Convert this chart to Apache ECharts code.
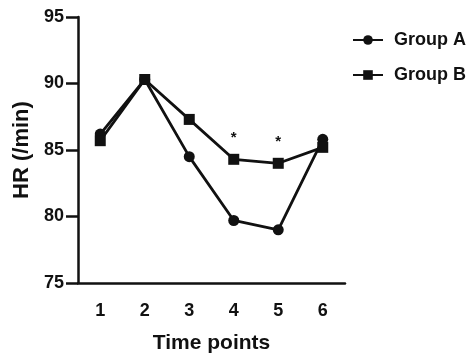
<!DOCTYPE html>
<html>
<head>
<meta charset="utf-8">
<script src="https://cdn.jsdelivr.net/npm/echarts@6/dist/echarts.min.js"></script>
<style>
  html, body { margin: 0; padding: 0; background: #fff; }
  #chartBox { width: 474px; height: 353px; }
</style>
</head>
<body>
<div id="chartBox"></div>
<script>
// chart data
const timePoints = ['1', '2', '3', '4', '5', '6']
const groupA = [86.2, 90.3, 84.5, 79.7, 79.0, 85.8]
const groupB = [85.7, 90.3, 87.3, 84.3, 84.0, 85.2]
const starIndex = [3, 4] // points marked with *
const yTicks = { min: 75, max: 95, interval: 5 }

const font = 'Liberation Sans, Arial, sans-serif'
const ink = '#111'

const chart = echarts.init(document.getElementById('chartBox'))

const groupBData = groupB.map((v, i) => {
  if (starIndex.indexOf(i) === -1) return v
  return {
    value: v,
    label: {
      show: true,
      position: 'top',
      distance: 8,
      formatter: '*',
      color: ink,
      fontFamily: font,
      fontWeight: 'bold',
      fontSize: 15
    }
  }
})

chart.setOption({
  animation: false,
  grid: { left: 78, right: 129, top: 17, bottom: 70, containLabel: false, outerBoundsMode: 'none' },
  legend: {
    orient: 'vertical',
    left: 347,
    top: 25,
    itemWidth: 30,
    itemHeight: 12,
    itemGap: 15,
    data: ['Group A', 'Group B'],
    textStyle: { color: ink, fontFamily: font, fontWeight: 'bold', fontSize: 18, lineHeight: 20, padding: [0, 0, 0, 6] }
  },
  xAxis: {
    type: 'category',
    data: timePoints,
    name: 'Time points',
    nameLocation: 'middle',
    nameGap: 50,
    nameTextStyle: { color: ink, fontFamily: font, fontWeight: 'bold', fontSize: 21 },
    axisLine: { lineStyle: { color: ink, width: 2.5 } },
    axisTick: { alignWithLabel: true, length: 7, lineStyle: { color: ink, width: 2.5 } },
    axisLabel: { color: ink, fontFamily: font, fontWeight: 'bold', fontSize: 18, margin: 19 }
  },
  yAxis: {
    type: 'value',
    min: yTicks.min,
    max: yTicks.max,
    interval: yTicks.interval,
    name: 'HR (/min)',
    nameLocation: 'middle',
    nameGap: 40,
    nameTextStyle: { color: ink, fontFamily: font, fontWeight: 'bold', fontSize: 22 },
    splitLine: { show: false },
    axisLine: { show: true, lineStyle: { color: ink, width: 2.5 } },
    axisTick: { show: true, length: 12, lineStyle: { color: ink, width: 2.5 } },
    axisLabel: { color: ink, fontFamily: font, fontWeight: 'bold', fontSize: 18, margin: 14 }
  },
  series: [
    {
      name: 'Group A',
      type: 'line',
      data: groupA,
      symbol: 'circle',
      symbolSize: 11,
      itemStyle: { color: ink },
      lineStyle: { color: ink, width: 2.8 }
    },
    {
      name: 'Group B',
      type: 'line',
      data: groupBData,
      symbol: 'rect',
      symbolSize: 11,
      itemStyle: { color: ink },
      lineStyle: { color: ink, width: 2.8 }
    }
  ]
})
</script>
</body>
</html>
